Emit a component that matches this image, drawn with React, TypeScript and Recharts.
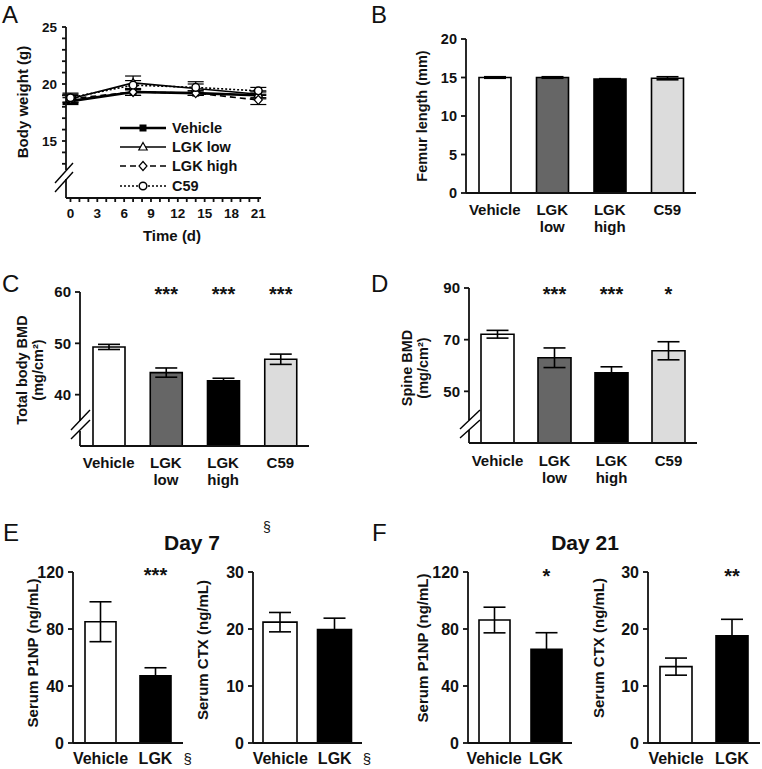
import React from 'react'
import { BarChart, Bar, Cell, LineChart, Line, XAxis, YAxis, ErrorBar, LabelList, Legend } from 'recharts'

const FONT = '"Liberation Sans", Arial, Helvetica, sans-serif'
const INK = '#111'

// A: body weight over time
const days = [0, 7, 14, 21]
const weightNames = ['Vehicle', 'LGK low', 'LGK high', 'C59']
const vehicleWt = [18.5, 19.3, 19.2, 19.0]
const vehicleWtErr = [0.3, 0.3, 0.2, 0.3]
const lowWt = [18.7, 20.1, 19.6, 19.1]
const lowWtErr = [0.4, 0.6, 0.4, 0.3]
const highWt = [18.7, 19.3, 19.2, 18.6]
const highWtErr = [0.3, 0.3, 0.2, 0.4]
const c59Wt = [18.8, 19.9, 19.7, 19.4]
const c59WtErr = [0.4, 0.4, 0.5, 0.3]
const dayTicks = [0, 1, 2, 3, 4, 5, 6, 7, 8, 9, 10, 11, 12, 13, 14, 15, 16, 17, 18, 19, 20, 21]
const weightTicks = [13, 14, 15, 16, 17, 18, 19, 20, 21, 22, 23, 24, 25]
const weightLabels = [15, 20, 25]

// B-D: four groups
const groups = ['Vehicle', 'LGK\nlow', 'LGK\nhigh', 'C59']
const femur = [15.0, 15.0, 14.8, 14.9]
const femurErr = [0.1, 0.1, 0.05, 0.2]
const totalBmd = [49.3, 44.3, 42.7, 46.9]
const totalBmdErr = [0.5, 0.9, 0.5, 1.0]
const totalBmdStars = ['', '***', '***', '***']
const spineBmd = [72.1, 63.0, 57.2, 65.7]
const spineBmdErr = [1.5, 3.8, 2.3, 3.5]
const spineBmdStars = ['', '***', '***', '*']

// E-F: serum markers
const pair = ['Vehicle', 'LGK']
const p1np7 = [85.1, 47.2]
const p1np7Err = [14, 5.6]
const p1np7Stars = ['', '***']
const ctx7 = [21.2, 19.9]
const ctx7Err = [1.7, 2.0]
const day7Marks = ['', '§']
const p1np21 = [86.3, 65.8]
const p1np21Err = [9, 11.6]
const p1np21Stars = ['', '*']
const ctx21 = [13.4, 18.8]
const ctx21Err = [1.5, 2.9]
const ctx21Stars = ['', '**']

const groupFills = ['#ffffff', '#666666', '#000000', '#dcdcdc']
const pairFills = ['#ffffff', '#000000']
const lineKinds = ['square', 'triangle', 'diamond', 'circle']
const lineWidths = [2.6, 1.6, 1.6, 1.6]
const lineDashes = [undefined, undefined, '6 4', '2 2']

const axisStyle = { stroke: INK, strokeWidth: 1.8 }

function marker(kind: string, cx: number, cy: number, key?: any) {
  if (kind === 'square') return <rect key={key} x={cx - 3.5} y={cy - 3.5} width={7} height={7} fill="#000" />
  if (kind === 'triangle')
    return <polygon key={key} points={`${cx},${cy - 4.5} ${cx + 4.2},${cy + 3} ${cx - 4.2},${cy + 3}`} fill="#fff" stroke="#000" strokeWidth={1.2} />
  if (kind === 'diamond')
    return <polygon key={key} points={`${cx},${cy - 4.5} ${cx + 4},${cy} ${cx},${cy + 4.5} ${cx - 4},${cy}`} fill="#fff" stroke="#000" strokeWidth={1.2} />
  return <circle key={key} cx={cx} cy={cy} r={3.8} fill="#fff" stroke="#000" strokeWidth={1.5} />
}

const weightRows = days.map((d, i) => ({
  day: d,
  s0: vehicleWt[i], e0: vehicleWtErr[i],
  s1: lowWt[i], e1: lowWtErr[i],
  s2: highWt[i], e2: highWtErr[i],
  s3: c59Wt[i], e3: c59WtErr[i],
}))

function WeightLegend() {
  return (
    <div style={{ fontFamily: FONT, fontWeight: 'bold', fontSize: 14.5, color: INK }}>
      {weightNames.map((n, i) => (
        <div key={n} style={{ display: 'flex', alignItems: 'center', height: 19.3 }}>
          <svg width={46} height={12}>
            <line x1={0} x2={46} y1={6} y2={6} stroke="#000" strokeWidth={lineWidths[i]} strokeDasharray={lineDashes[i]} />
            {marker(lineKinds[i], 23, 6)}
          </svg>
          <span style={{ marginLeft: 6 }}>{n}</span>
        </div>
      ))}
    </div>
  )
}

function WeightPanel() {
  return (
    <div style={{ position: 'absolute', left: 0, top: 0 }}>
      <LineChart width={280} height={250} data={weightRows} margin={{ top: 27, right: 19, bottom: 0, left: 0 }}>
        <XAxis type="number" dataKey="day" domain={[-0.5, 21.3]} ticks={dayTicks} interval={0} height={52}
          axisLine={axisStyle} tickLine={axisStyle} tickSize={4} tickMargin={0}
          tick={(t: any) => t.payload.value % 3 === 0
            ? <text x={t.x} y={t.y + 16} textAnchor="middle" fontSize={13.5} fontWeight="bold" fill={INK} fontFamily={FONT}>{t.payload.value}</text>
            : <g />}
          label={{ content: () => <text x={172} y={241} textAnchor="middle" fontSize={15} fontWeight="bold" fill={INK} fontFamily={FONT}>Time (d)</text> }} />
        <YAxis domain={[10, 25]} ticks={weightTicks} interval={0} width={66} allowDataOverflow
          axisLine={axisStyle} tickLine={axisStyle} tickSize={4} tickMargin={5}
          tick={(t: any) => weightLabels.includes(t.payload.value)
            ? <text x={t.x} y={t.y} dy="0.35em" textAnchor="end" fontSize={13.5} fontWeight="bold" fill={INK} fontFamily={FONT}>{t.payload.value}</text>
            : <g />}
          label={{ content: () => <text x={22} y={102} transform="rotate(-90 22 102)" textAnchor="middle" dominantBaseline="central" fontSize={15} fontWeight="bold" fill={INK} fontFamily={FONT}>Body weight (g)</text> }} />
        {weightNames.map((n, i) => (
          <Line key={n} name={n} dataKey={`s${i}`} stroke="#000" strokeWidth={lineWidths[i]} strokeDasharray={lineDashes[i]}
            isAnimationActive={false}
            dot={(d: any) => marker(lineKinds[i], d.cx, d.cy, `${n}-${d.index}`)}>
            <ErrorBar dataKey={`e${i}`} width={8} stroke="#000" strokeWidth={1.2} />
          </Line>
        ))}
        <Legend layout="vertical" align="center" verticalAlign="middle" content={() => <WeightLegend />}
          wrapperStyle={{ left: 120, top: 118, width: 160 }} />
      </LineChart>
    </div>
  )
}

type PanelProps = {
  left: number; top: number; width: number; height: number
  plotTop: number; plotBottom: number; plotLeft: number; plotRight: number
  cats: string[]; vals: number[]; errs: number[]; fills: string[]
  stars?: string[]; starY?: number; marks?: string[]
  domain: [number, number]; ticks: number[]; barSize: number
  yLabel: string[]; yLabelX: number[]; yLabelY: number; yLabelFont: number
  tickBase: number; tickFont: number; catFont: number
}

function BarPanel(p: PanelProps) {
  const rows = p.cats.map((c, i) => ({ cat: c, v: p.vals[i], err: p.errs[i], star: p.stars ? p.stars[i] : '' }))
  const mTop = p.plotTop - p.top
  const xH = p.top + p.height - p.plotBottom
  const yW = p.plotLeft - p.left
  const mRight = p.left + p.width - p.plotRight
  const starBase = (p.starY ?? 0) + 11 - p.top
  return (
    <div style={{ position: 'absolute', left: p.left, top: p.top }}>
      <BarChart width={p.width} height={p.height} data={rows} margin={{ top: mTop, right: mRight, bottom: 0, left: 0 }} barSize={p.barSize}>
        <XAxis dataKey="cat" height={xH} interval={0} axisLine={axisStyle} tickLine={false} tickSize={0} tickMargin={0}
          tick={(t: any) => {
            const lines = String(t.payload.value).split('\n')
            const mark = p.marks ? p.marks[t.index] : ''
            return (
              <g>
                <text x={t.x} y={t.y + p.tickBase} textAnchor="middle" fontSize={p.catFont} fontWeight="bold" fill={INK} fontFamily={FONT}>
                  {lines.map((l, k) => <tspan key={k} x={t.x} dy={k === 0 ? 0 : 17}>{l}</tspan>)}
                </text>
                {mark ? <text x={t.x + 28} y={t.y + p.tickBase} fontSize={15} fill={INK} fontFamily={FONT}>{mark}</text> : null}
              </g>
            )
          }} />
        <YAxis domain={p.domain} ticks={p.ticks} interval={0} width={yW} allowDataOverflow
          axisLine={axisStyle} tickLine={axisStyle} tickSize={5} tickMargin={4}
          tick={{ fill: INK, fontSize: p.tickFont, fontWeight: 'bold', fontFamily: FONT }}
          label={{ content: () => (
            <g>
              {p.yLabel.map((l, k) => {
                const x = p.yLabelX[k] - p.left
                const y = p.yLabelY - p.top
                return <text key={k} x={x} y={y} transform={`rotate(-90 ${x} ${y})`} textAnchor="middle" dominantBaseline="central"
                  fontSize={p.yLabelFont} fontWeight="bold" fill={INK} fontFamily={FONT}>{l}</text>
              })}
            </g>
          ) }} />
        <Bar dataKey="v" stroke="#000" strokeWidth={1.6} isAnimationActive={false}>
          {rows.map((r, i) => <Cell key={r.cat} fill={p.fills[i]} />)}
          <ErrorBar dataKey="err" width={11} stroke="#000" strokeWidth={1.6} />
          {p.stars ? (
            <LabelList dataKey="star" content={(l: any) => l.value
              ? <text x={Number(l.x) + Number(l.width) / 2} y={starBase} textAnchor="middle" fontSize={20} fontWeight="bold" fill={INK} fontFamily={FONT}>{l.value}</text>
              : null} />
          ) : null}
        </Bar>
      </BarChart>
    </div>
  )
}

function Overlay() {
  const txt = { fill: INK, fontFamily: FONT }
  const slash = (x1: number, y1: number, x2: number, y2: number) => <line x1={x1} y1={y1} x2={x2} y2={y2} stroke="#000" strokeWidth={1.4} />
  return (
    <svg width={762} height={769} style={{ position: 'absolute', left: 0, top: 0, pointerEvents: 'none' }}>
      {/* axis breaks */}
      <rect x={62} y={170} width={8} height={9} fill="#fff" />
      {slash(55, 183, 73, 163)}
      {slash(55, 192, 73, 172)}
      <rect x={75} y={421} width={8} height={10} fill="#fff" />
      {slash(71, 430, 90, 410)}
      {slash(71, 439, 90, 420)}
      <rect x={465} y={420} width={8} height={10} fill="#fff" />
      {slash(460, 429, 480, 410)}
      {slash(460, 438, 480, 420)}
      {/* panel letters */}
      <text x={2} y={23} fontSize={24} {...txt}>A</text>
      <text x={371} y={23} fontSize={24} {...txt}>B</text>
      <text x={2} y={292} fontSize={24} {...txt}>C</text>
      <text x={371} y={292} fontSize={24} {...txt}>D</text>
      <text x={3} y={541} fontSize={24} {...txt}>E</text>
      <text x={372} y={541} fontSize={24} {...txt}>F</text>
      {/* titles */}
      <text x={192} y={550} textAnchor="middle" fontSize={21} fontWeight="bold" {...txt}>Day 7</text>
      <text x={263} y={532} fontSize={14} {...txt}>§</text>
      <text x={585} y={550} textAnchor="middle" fontSize={21} fontWeight="bold" {...txt}>Day 21</text>
    </svg>
  )
}

export default function App() {
  return (
    <div style={{ position: 'absolute', left: 0, top: 0, width: 762, height: 769, background: '#fff', fontFamily: FONT }}>
      <WeightPanel />
      <BarPanel left={380} top={0} width={382} height={260} plotTop={39} plotBottom={193} plotLeft={466} plotRight={696}
        cats={groups} vals={femur} errs={femurErr} fills={groupFills} domain={[0, 20]} ticks={[0, 5, 10, 15, 20]} barSize={32}
        yLabel={['Femur length (mm)']} yLabelX={[422]} yLabelY={116} yLabelFont={14.5} tickBase={22} tickFont={14.5} catFont={15} />
      <BarPanel left={0} top={260} width={380} height={240} plotTop={292} plotBottom={446} plotLeft={80} plotRight={309}
        cats={groups} vals={totalBmd} errs={totalBmdErr} fills={groupFills} stars={totalBmdStars} starY={290}
        domain={[30, 60]} ticks={[40, 50, 60]} barSize={32}
        yLabel={['Total body BMD', '(mg/cm²)']} yLabelX={[22, 38]} yLabelY={370} yLabelFont={14.5} tickBase={22} tickFont={15} catFont={15} />
      <BarPanel left={380} top={260} width={382} height={240} plotTop={288} plotBottom={443} plotLeft={469} plotRight={697}
        cats={groups} vals={spineBmd} errs={spineBmdErr} fills={groupFills} stars={spineBmdStars} starY={290}
        domain={[30, 90]} ticks={[50, 70, 90]} barSize={33}
        yLabel={['Spine BMD', '(mg/cm²)']} yLabelX={[407, 423]} yLabelY={368} yLabelFont={14.5} tickBase={23} tickFont={15} catFont={15} />
      <BarPanel left={0} top={520} width={200} height={249} plotTop={572} plotBottom={743} plotLeft={73} plotRight={183}
        cats={pair} vals={p1np7} errs={p1np7Err} fills={pairFills} stars={p1np7Stars} starY={571} marks={day7Marks}
        domain={[0, 120]} ticks={[0, 40, 80, 120]} barSize={31}
        yLabel={['Serum P1NP (ng/mL)']} yLabelX={[32]} yLabelY={653} yLabelFont={15} tickBase={21} tickFont={16} catFont={16} />
      <BarPanel left={190} top={520} width={190} height={249} plotTop={572} plotBottom={743} plotLeft={253} plotRight={362}
        cats={pair} vals={ctx7} errs={ctx7Err} fills={pairFills} marks={day7Marks}
        domain={[0, 30]} ticks={[0, 10, 20, 30]} barSize={34}
        yLabel={['Serum CTX (ng/mL)']} yLabelX={[202]} yLabelY={650} yLabelFont={15} tickBase={21} tickFont={16} catFont={16} />
      <BarPanel left={380} top={520} width={200} height={249} plotTop={572} plotBottom={743} plotLeft={468} plotRight={572}
        cats={pair} vals={p1np21} errs={p1np21Err} fills={pairFills} stars={p1np21Stars} starY={572}
        domain={[0, 120]} ticks={[0, 40, 80, 120]} barSize={31}
        yLabel={['Serum P1NP (ng/mL)']} yLabelX={[422]} yLabelY={648} yLabelFont={15} tickBase={21} tickFont={16} catFont={16} />
      <BarPanel left={580} top={520} width={182} height={249} plotTop={572} plotBottom={743} plotLeft={648} plotRight={760}
        cats={pair} vals={ctx21} errs={ctx21Err} fills={pairFills} stars={ctx21Stars} starY={572}
        domain={[0, 30]} ticks={[0, 10, 20, 30]} barSize={32}
        yLabel={['Serum CTX (ng/mL)']} yLabelX={[598]} yLabelY={648} yLabelFont={15} tickBase={21} tickFont={16} catFont={16} />
      <Overlay />
    </div>
  )
}
